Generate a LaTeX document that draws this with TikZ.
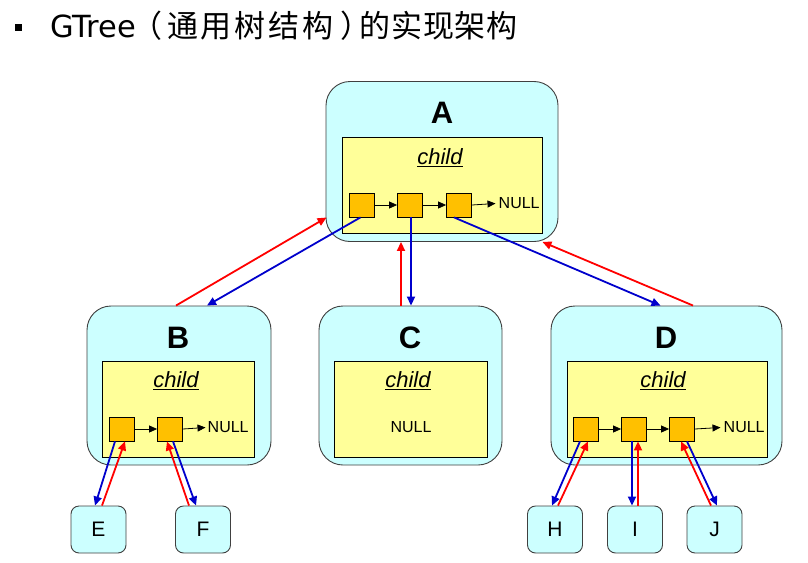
\documentclass[tikz,border=0pt]{standalone}
\usepackage{fontspec}
\setmainfont{Liberation Sans}
\newfontfamily\cjk{Noto Sans CJK SC}
\newfontfamily\cjkwide[LetterSpace=9]{Noto Sans CJK SC}
\newfontfamily\cjkmid[LetterSpace=3]{Noto Sans CJK SC}
\newfontfamily\latwide{DejaVu Sans}
\usetikzlibrary{arrows.meta,calc}
\definecolor{cyanfill}{HTML}{CCFFFF}
\definecolor{yellowfill}{HTML}{FFFF99}
\definecolor{orangefill}{HTML}{FFC000}
\definecolor{arrred}{HTML}{FF0000}
\definecolor{arrblue}{HTML}{0000CC}
\begin{document}
\begin{tikzpicture}[x=1pt,y=-1pt,
  outerbox/.style={draw=black!75,fill=cyanfill,rounded corners=24pt,line width=0.9pt,inner sep=0pt},
  innerbox/.style={draw=black,fill=yellowfill,line width=0.9pt,inner sep=0pt},
  cell/.style={draw=black,fill=orangefill,line width=0.8pt,minimum width=25pt,minimum height=24pt,inner sep=0pt},
  leaf/.style={draw=black!75,fill=cyanfill,rounded corners=8pt,line width=0.9pt,minimum width=55pt,minimum height=47pt,inner sep=0pt,font=\fontsize{21}{21}\selectfont},
  biglabel/.style={font=\fontsize{31}{31}\selectfont\bfseries,inner sep=0pt},
  childlabel/.style={font=\fontsize{22}{22}\selectfont\itshape,inner sep=0pt},
  nulllabel/.style={font=\fontsize{16}{16}\selectfont,inner sep=0pt},
  titletext/.style={anchor=base west,inner sep=0pt},
  link/.style={-{Triangle[length=8pt,width=7pt]},line width=0.8pt},
  redarr/.style={draw=arrred,line width=1.8pt,-{Triangle[length=9pt,width=8pt]}},
  bluearr/.style={draw=arrblue,line width=1.8pt,-{Triangle[length=9pt,width=8pt]}}
]
\useasboundingbox[fill=white] (0,0) rectangle (808,562);

% title
\fill[black] (15,24) rectangle (22,31);
\node[titletext,font=\latwide\fontsize{30.5}{30.5}\selectfont] (t1) at (50,37) {GTree};
\node[titletext,font=\cjk\fontsize{31}{31}\selectfont] (t2) at (131,37) {（};
\node[titletext,font=\cjkwide\fontsize{31}{31}\selectfont] (t3) at (167,37) {通用树结构};
\node[titletext,font=\cjk\fontsize{31}{31}\selectfont] (t4) at (340,37) {）};
\node[titletext,font=\cjkmid\fontsize{31}{31}\selectfont] (t5) at (359,37) {的实现架构};

% node A
\node[outerbox,minimum width=232pt,minimum height=160pt] (A) at (442,161.5) {};
\node[innerbox,minimum width=200pt,minimum height=96pt] (Ain) at (442,185) {};
\node[biglabel] (Alab) at (442,113) {A};
\node[childlabel] (Achild) at (440,158) {\underline{child}};
\node[cell] (A1) at (361.5,205) {};
\node[cell] (A2) at (410,205) {};
\node[cell] (A3) at (459,205) {};
\node[nulllabel,anchor=west] (Anull) at (498.5,203.5) {NULL};
\draw[link] (A1.east) -- (A2.west);
\draw[link] (A2.east) -- (A3.west);
\draw[link] (A3.east) -- ([xshift=-3pt]Anull.west);

% node B
\node[outerbox,minimum width=184pt,minimum height=159pt] (B) at (179,385.5) {};
\node[innerbox,minimum width=152pt,minimum height=96pt] (Bin) at (178,409) {};
\node[biglabel] (Blab) at (178,338) {B};
\node[childlabel] (Bchild) at (176,381) {\underline{child}};
\node[cell] (B1) at (121.5,429) {};
\node[cell] (B2) at (170,429) {};
\node[nulllabel,anchor=west] (Bnull) at (207.5,427.5) {NULL};
\draw[link] (B1.east) -- (B2.west);
\draw[link] (B2.east) -- ([xshift=-2pt]Bnull.west);

% node C
\node[outerbox,minimum width=183pt,minimum height=159pt] (C) at (410.5,385.5) {};
\node[innerbox,minimum width=153pt,minimum height=96pt] (Cin) at (410.5,409) {};
\node[biglabel] (Clab) at (410,338) {C};
\node[childlabel] (Cchild) at (408,381) {\underline{child}};
\node[nulllabel] (Cnull) at (411,427) {NULL};

% node D
\node[outerbox,minimum width=231pt,minimum height=159pt] (D) at (666.5,385.5) {};
\node[innerbox,minimum width=200pt,minimum height=96pt] (Din) at (667,409) {};
\node[biglabel] (Dlab) at (666,338) {D};
\node[childlabel] (Dchild) at (663,381) {\underline{child}};
\node[cell] (D1) at (585.5,429) {};
\node[cell] (D2) at (634,429) {};
\node[cell] (D3) at (682,429) {};
\node[nulllabel,anchor=west] (Dnull) at (723.5,427.5) {NULL};
\draw[link] (D1.east) -- (D2.west);
\draw[link] (D2.east) -- (D3.west);
\draw[link] (D3.east) -- ([xshift=-3pt]Dnull.west);

% leaves
\node[leaf] (E) at (98.5,529.5) {E};
\node[leaf] (F) at (203,529.5) {F};
\node[leaf] (H) at (555,529.5) {H};
\node[leaf] (I) at (635,529.5) {I};
\node[leaf] (J) at (714.5,529.5) {J};

% A <-> B, C, D
\draw[redarr] ($(B.north)+(-3,0)$) -- ($(A.west)+(1,56)$);
\draw[bluearr] ($(A1.south)+(-1,0)$) -- ($(B.north)+(28,0)$);
\draw[redarr] ($(C.north)+(-9.5,0)$) -- ($(A.south)+(-41,0)$);
\draw[bluearr] ($(A2.south)+(1,0)$) -- ($(C.north)+(0.5,0)$);
\draw[redarr] ($(D.north)+(26.5,0)$) -- ($(A.south east)+(-16,0)$);
\draw[bluearr] ($(A3.south)+(-5,0)$) -- ($(D.north)+(-6,0)$);

% B <-> E, F
\draw[bluearr] ($(B1.south)+(-6.5,0)$) -- ($(E.north)+(-3.5,0)$);
\draw[redarr] ($(E.north)+(3.5,0)$) -- ($(B1.south)+(3.5,0)$);
\draw[redarr] ($(F.north)+(-14,0)$) -- ($(B2.south)+(-3,0)$);
\draw[bluearr] ($(B2.south)+(3,0)$) -- ($(F.north)+(-7,0)$);

% D <-> H, I, J
\draw[bluearr] ($(D1.south)+(-5.5,0)$) -- ($(H.north)+(-3,0)$);
\draw[redarr] ($(H.north)+(3,0)$) -- ($(D1.south)+(2.5,0)$);
\draw[bluearr] ($(D2.south)+(-2,0)$) -- ($(I.north)+(-3,0)$);
\draw[redarr] ($(I.north)+(3,0)$) -- ($(D2.south)+(4,0)$);
\draw[redarr] ($(J.north)+(-3.5,0)$) -- ($(D3.south)+(-1,0)$);
\draw[bluearr] ($(D3.south)+(5,0)$) -- ($(J.north)+(2.5,0)$);
\end{tikzpicture}
\end{document}
